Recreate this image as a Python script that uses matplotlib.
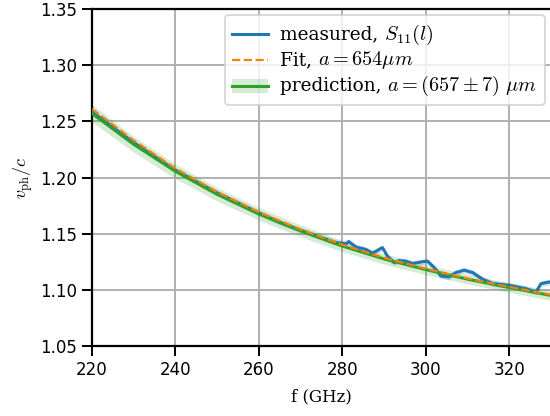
import numpy as np
import matplotlib
matplotlib.use("Agg")
import matplotlib.pyplot as plt
from matplotlib.lines import Line2D
from matplotlib.patches import Rectangle
from matplotlib.offsetbox import AnchoredOffsetbox, HPacker, VPacker, TextArea, DrawingArea

plt.rcParams['mathtext.fontset'] = 'cm'

# Prediction (green) and fit (orange)
f_model = [220, 230, 240, 250, 260, 270, 280, 290, 300, 310, 320, 330]
v_pred = [1.257, 1.2295, 1.2055, 1.1850, 1.1675, 1.1525, 1.1390, 1.1275, 1.1180, 1.1095, 1.1020, 1.0950]
v_pred_lo = [1.2495, 1.2225, 1.1990, 1.1790, 1.1620, 1.1472, 1.1340, 1.1228, 1.1135, 1.1052, 1.0978, 1.0905]
v_pred_hi = [1.2650, 1.2365, 1.2120, 1.1910, 1.1730, 1.1578, 1.1440, 1.1322, 1.1225, 1.1138, 1.1062, 1.0995]
v_fit = [1.2610, 1.2330, 1.2080, 1.1872, 1.1692, 1.1538, 1.1402, 1.1285, 1.1188, 1.1102, 1.1026, 1.0956]

# Measured (blue)
f_meas = [220, 230, 240, 250, 260, 265, 270, 275, 278.5, 280.9, 281.5, 283.3, 285.6, 287.2,
          289.6, 290.8, 292.4, 293.6, 295.2, 296.8, 299.2, 300.4, 302.0, 303.6, 305.6,
          307.2, 309.2, 311.2, 313.6, 316.0, 320.0, 324.0, 326.4, 327.6, 329.6, 330]
v_meas = [1.2585, 1.2310, 1.2065, 1.1862, 1.1685, 1.1600, 1.1530, 1.1465, 1.1420, 1.1410, 1.1430,
          1.1380, 1.1360, 1.1326, 1.1376, 1.1300, 1.1242, 1.1260, 1.1255, 1.1234, 1.1250,
          1.1255, 1.1199, 1.1124, 1.1115, 1.1154, 1.1175, 1.1154, 1.1095, 1.1056, 1.1040,
          1.1010, 1.0980, 1.1055, 1.1070, 1.1065]
v_meas_err = 0.0025

xticks = [220, 240, 260, 280, 300, 320]
yticks = [1.05, 1.10, 1.15, 1.20, 1.25, 1.30, 1.35]

legend_text = ['measured, ', 'Fit, ', 'prediction, ']
legend_math = [r'$S_{11}(l)$', r'$a=654\mu m$', r'$a=(657\pm7)\ \mu m$']

BLUE, ORANGE, GREEN = '#1f77b4', '#ff7f0e', '#2ca02c'

fig = plt.figure(figsize=(5.5, 4.16), dpi=100)
ax = fig.add_axes([92/550, 1 - 346/416, 459/550, 337/416])

ax.grid(True, color='#b0b0b0', linewidth=1.4, zorder=0)
ax.set_axisbelow(True)

f_meas_a = np.array(f_meas)
v_meas_a = np.array(v_meas)
ax.fill_between(f_meas_a, v_meas_a - v_meas_err, v_meas_a + v_meas_err,
                color=BLUE, alpha=0.2, linewidth=0, zorder=2)
ax.plot(f_meas, v_meas, color=BLUE, linewidth=2.2, zorder=3)
ax.plot(f_model, v_fit, color=ORANGE, linewidth=1.6, linestyle='--', zorder=5)
ax.fill_between(f_model, v_pred_lo, v_pred_hi, color=GREEN, alpha=0.2, linewidth=0, zorder=2)
ax.plot(f_model, v_pred, color=GREEN, linewidth=2.2, zorder=4)

ax.set_xlim(220, 330)
ax.set_ylim(1.05, 1.35)
ax.set_xticks(xticks)
ax.set_yticks(yticks)
ax.set_yticklabels([f'{v:.2f}' for v in yticks])
ax.tick_params(axis='both', labelsize=12, length=7, width=1.4, direction='out')
for s in ax.spines.values():
    s.set_linewidth(1.6)

ax.set_xlabel('f (GHz)', fontfamily='DejaVu Serif', fontsize=12, labelpad=7)
ax.set_ylabel(r'$v_\mathrm{ph}/c$', fontsize=13)

# Legend built from offset boxes (text in DejaVu Serif, math in Computer Modern)
HL, HH = 26, 10
rows = []
for i in range(3):
    da = DrawingArea(HL, HH, 0, 0)
    if i == 0:
        da.add_artist(Line2D([0, HL], [HH/2, HH/2], color=BLUE, linewidth=2.2))
    elif i == 1:
        da.add_artist(Line2D([0, HL], [HH/2, HH/2], color=ORANGE, linewidth=1.6, linestyle='--',
                             dashes=(3.7, 1.6)))
    else:
        da.add_artist(Rectangle((0, HH/2 - 5), HL, 10, facecolor=GREEN, alpha=0.2, linewidth=0))
        da.add_artist(Line2D([0, HL], [HH/2, HH/2], color=GREEN, linewidth=2.2))
    t1 = TextArea(legend_text[i], textprops=dict(family='DejaVu Serif', size=13.3))
    t2 = TextArea(legend_math[i], textprops=dict(size=14.6))
    txt = HPacker(children=[t1, t2], sep=0, pad=0, align='baseline')
    row = HPacker(children=[da, txt], sep=8.5, pad=0, align='center')
    rows.append(row)
vp = VPacker(children=rows, sep=2.0, pad=0, align='left')
box = AnchoredOffsetbox(loc='upper right', child=vp, pad=0.45, borderpad=0.38, frameon=True,
                        prop=dict(size=11.6))
box.patch.set_boxstyle('round,pad=0,rounding_size=0.25')
box.patch.set_facecolor('white')
box.patch.set_alpha(0.8)
box.patch.set_edgecolor('#cccccc')
box.patch.set_linewidth(1.3)
box.set_zorder(10)
ax.add_artist(box)

fig.savefig('out.png', dpi=100)
